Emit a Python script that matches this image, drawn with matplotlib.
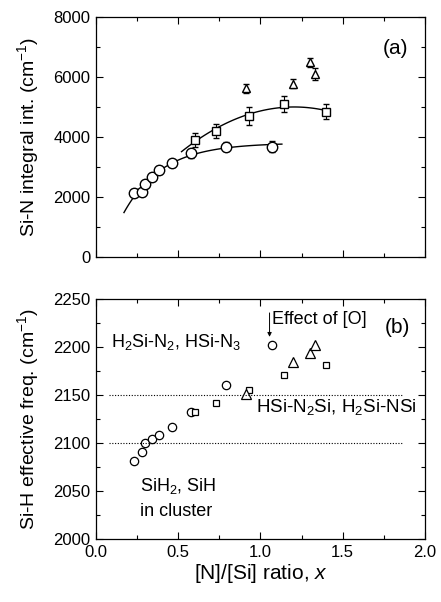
import numpy as np
import matplotlib
matplotlib.use("Agg")
import matplotlib.pyplot as plt
from matplotlib.ticker import MultipleLocator

plt.rcParams['font.family'] = ['Liberation Sans', 'DejaVu Sans']
plt.rcParams['mathtext.fontset'] = 'custom'
plt.rcParams['mathtext.rm'] = 'Liberation Sans'
plt.rcParams['mathtext.it'] = 'Liberation Sans:italic'

# [N]/[Si] ratio of each sample series
x_circ = [0.23, 0.28, 0.30, 0.34, 0.38, 0.46, 0.58, 0.79, 1.07]
x_sq = [0.60, 0.73, 0.93, 1.14, 1.40]
x_tri = [0.91, 1.20, 1.30, 1.33]

# (a) Si-N integrated absorption
sin_circ = [2130, 2150, 2410, 2670, 2890, 3110, 3450, 3670, 3670]
sin_circ_err = [120, 120, 120, 120, 120, 120, 150, 150, 180]
sin_sq = [3890, 4200, 4690, 5090, 4830]
sin_sq_err = [230, 230, 300, 280, 250]
sin_tri = [5610, 5770, 6480, 6080]
sin_tri_err = [150, 150, 150, 200]

# (b) Si-H effective stretching frequency
sih_circ = [2081, 2091, 2100, 2104, 2109, 2117, 2133, 2161, 2203]
sih_sq = [2133, 2142, 2155, 2171, 2182]
sih_tri = [2151, 2185, 2194, 2203]

# fit ranges for the guide curves in (a)
fit_circ_range = (0.17, 1.13)
fit_sq_range = (0.52, 1.40)


def saturation_fit(x, y):
    # y = A - B*exp(-x/c), best c picked from a grid, A and B by least squares
    x = np.asarray(x)
    y = np.asarray(y)
    best = None
    for c in np.linspace(0.05, 2.0, 400):
        M = np.column_stack([np.ones_like(x), -np.exp(-x / c)])
        coef, res, *_ = np.linalg.lstsq(M, y, rcond=None)
        err = np.sum((M @ coef - y) ** 2)
        if best is None or err < best[0]:
            best = (err, coef, c)
    _, (A, B), c = best
    return lambda t: A - B * np.exp(-t / c)


fig = plt.figure(figsize=(4.41, 6.02), dpi=100)
ax1 = fig.add_axes([0.2177, 0.5736, 0.746, 0.3987])
ax2 = fig.add_axes([0.2177, 0.1047, 0.746, 0.3978])

mk = dict(linestyle='none', markerfacecolor='white', markeredgecolor='black',
          markeredgewidth=1.0, ecolor='black', elinewidth=0.8, capsize=2.5, capthick=0.8)

# guide curves
f = saturation_fit(x_circ, sin_circ)
xx = np.linspace(*fit_circ_range, 100)
ax1.plot(xx, f(xx), color='black', lw=1.0, zorder=1)
p = np.polyfit(x_sq, sin_sq, 2)
xx = np.linspace(*fit_sq_range, 100)
ax1.plot(xx, np.polyval(p, xx), color='black', lw=1.0, zorder=1)

ax1.errorbar(x_circ, sin_circ, yerr=sin_circ_err, marker='o', markersize=7.5, zorder=3, **mk)
ax1.errorbar(x_sq, sin_sq, yerr=sin_sq_err, marker='s', markersize=6, zorder=3, **mk)
ax1.errorbar(x_tri, sin_tri, yerr=sin_tri_err, marker='^', markersize=6, zorder=3, **mk)

ax1.set_xlim(0, 2.0)
ax1.set_ylim(0, 8000)
ax1.yaxis.set_major_locator(MultipleLocator(2000))
ax1.yaxis.set_minor_locator(MultipleLocator(1000))
ax1.set_ylabel('Si-N integral int. (cm$^{-1}$)', fontsize=14, labelpad=9)
ax1.tick_params(labelbottom=False)
ax1.text(1.82, 6950, '(a)', fontsize=15, ha='center', va='center')

# (b)
ax2.plot(x_circ, sih_circ, 'o', markersize=6, mfc='white', mec='black', mew=0.9)
ax2.plot(x_sq, sih_sq, 's', markersize=5, mfc='white', mec='black', mew=0.9)
ax2.plot(x_tri, sih_tri, '^', markersize=7, mfc='white', mec='black', mew=0.9)
for level in (2100, 2150):
    ax2.plot([0.08, 1.86], [level, level], color='black', lw=0.8, ls=(0, (1, 1.5)))

ax2.set_xlim(0, 2.0)
ax2.set_ylim(2000, 2250)
ax2.yaxis.set_major_locator(MultipleLocator(50))
ax2.yaxis.set_minor_locator(MultipleLocator(25))
ax2.set_ylabel('Si-H effective freq. (cm$^{-1}$)', fontsize=14, labelpad=9)
ax2.set_xlabel('[N]/[Si] ratio, $x$', fontsize=15, labelpad=2)

ax2.text(0.09, 2200, 'H$_2$Si-N$_2$, HSi-N$_3$', fontsize=13, va='baseline')
ax2.text(1.07, 2224, 'Effect of [O]', fontsize=13, va='baseline')
ax2.annotate('', xy=(1.055, 2211), xytext=(1.055, 2236),
             arrowprops=dict(arrowstyle='-|>', color='black', lw=0.7,
                             mutation_scale=6, shrinkA=0, shrinkB=0))
ax2.text(1.83, 2221, '(b)', fontsize=15, ha='center', va='center')
ax2.text(0.97, 2133, 'HSi-N$_2$Si, H$_2$Si-NSi', fontsize=13.5, va='baseline')
ax2.text(0.268, 2050, 'SiH$_2$, SiH', fontsize=13, va='baseline')
ax2.text(0.268, 2024, 'in cluster', fontsize=13, va='baseline')

for ax in (ax1, ax2):
    ax.xaxis.set_major_locator(MultipleLocator(0.5))
    ax.xaxis.set_minor_locator(MultipleLocator(0.25))
    ax.tick_params(which='both', direction='in', top=True, right=True, labelsize=12, pad=4)
    ax.tick_params(which='major', length=5, width=0.8)
    ax.tick_params(which='minor', length=3, width=0.8)
    for s in ax.spines.values():
        s.set_linewidth(0.9)

ax2.xaxis.set_major_formatter(matplotlib.ticker.FormatStrFormatter('%.1f'))

fig.savefig('out.png', dpi=100)
